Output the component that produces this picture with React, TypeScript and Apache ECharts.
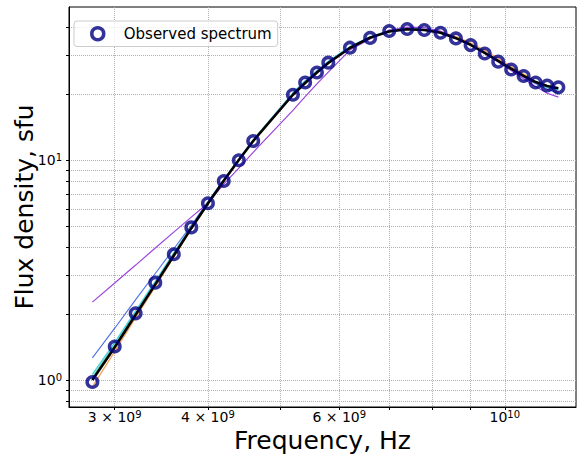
import React, { useEffect, useRef } from "react";
import * as echarts from "echarts";

// Frequencies in GHz (observed and model grid)
const FREQ_GHZ = [2.8, 3.0, 3.2, 3.4, 3.6, 3.8, 4.0, 4.2, 4.4, 4.6, 5.2, 5.4, 5.6, 5.8, 6.2, 6.6, 7.0, 7.4, 7.8, 8.2, 8.6, 9.0, 9.4, 9.8, 10.2, 10.6, 11.0, 11.4, 11.8];

// Observed flux density, sfu
const OBSERVED = [0.98, 1.42, 2.01, 2.77, 3.73, 4.94, 6.36, 8.03, 9.97, 12.2, 19.8, 22.5, 25.0, 27.7, 32.4, 35.9, 38.6, 39.4, 39.0, 37.9, 35.7, 33.3, 30.5, 28.0, 25.8, 24.1, 22.5, 21.8, 21.4];

// Model fits
const FIT_BEST = [1.0, 1.41, 1.98, 2.72, 3.68, 4.9, 6.35, 8.05, 10.0, 12.2, 19.8, 22.4, 25.0, 27.6, 32.3, 36.0, 38.4, 39.3, 39.0, 37.9, 35.8, 33.4, 30.7, 28.2, 26.0, 24.1, 22.6, 21.7, 21.2];
const FIT_CYAN = [1.06, 1.48, 2.06, 2.81, 3.78, 5.0, 6.45, 8.15, 10.1, 12.35, 20.2, 22.9, 25.5, 28.1, 32.8, 36.4, 38.7, 39.6, 39.2, 38.0, 35.9, 33.4, 30.7, 28.2, 25.9, 24.0, 22.4, 21.4, 20.8];
const FIT_GREEN = [1.03, 1.45, 2.02, 2.77, 3.73, 4.95, 6.4, 8.1, 10.05, 12.3, 19.95, 22.6, 25.2, 27.8, 32.5, 36.1, 38.5, 39.4, 39.1, 37.9, 35.8, 33.4, 30.7, 28.2, 25.9, 24.0, 22.5, 21.5, 21.0];
const FIT_ORANGE = [0.93, 1.35, 1.92, 2.66, 3.62, 4.85, 6.3, 8.0, 9.95, 12.1, 19.7, 22.3, 24.9, 27.5, 32.2, 35.9, 38.4, 39.3, 39.1, 38.3, 36.4, 34.1, 31.5, 29.0, 26.6, 24.6, 22.8, 21.4, 20.3];
const FIT_BLUE = [1.26, 1.72, 2.32, 3.05, 3.95, 5.05, 6.45, 8.1, 10.05, 12.25, 20.0, 22.7, 25.3, 27.9, 32.6, 36.2, 38.6, 39.5, 39.2, 38.0, 35.9, 33.4, 30.7, 28.1, 25.8, 23.8, 22.2, 21.0, 20.1];
const FIT_PURPLE = [2.26, 2.76, 3.33, 3.98, 4.7, 5.5, 6.36, 7.77, 9.18, 10.84, 16.8, 19.4, 22.2, 25.1, 31.6, 35.5, 39.0, 40.2, 40.0, 38.5, 36.0, 33.3, 30.5, 27.9, 25.5, 23.4, 21.6, 20.1, 19.3];

// Axis ticks
const X_TICKS = [3e9, 4e9, 5e9, 6e9, 7e9, 8e9, 9e9, 1e10];
const X_LABELS = [3e9, 4e9, 6e9, 1e10];
const Y_TICKS = [0.8, 0.9, 1, 2, 3, 4, 5, 6, 7, 8, 9, 10, 20, 30, 40];
const Y_LABELS = [1, 10];

const FONT = "DejaVu Sans";

const toPairs = (vals: number[]) => FREQ_GHZ.map((f, i) => [f * 1e9, vals[i]]);

const rich = {
  n: { fontSize: 14, lineHeight: 16, fontFamily: FONT, color: "#000" },
  s: { fontSize: 10, lineHeight: 9, verticalAlign: "top", fontFamily: FONT, color: "#000" },
};

function xFmt(v: number) {
  const e = Math.floor(Math.log10(v) + 1e-9);
  const m = Math.round(v / Math.pow(10, e));
  if (m === 1) return `{n|10}{s|${e}}`;
  return `{n|${m} × 10}{s|${e}}`;
}
function yFmt(v: number) {
  const e = Math.round(Math.log10(v));
  return `{n|10}{s|${e}}`;
}

export default function App() {
  const ref = useRef<HTMLDivElement>(null);
  useEffect(() => {
    if (!ref.current) return;
    const chart = echarts.init(ref.current, null, { renderer: "svg" });
    const line = (name: string, vals: number[], color: string, width: number, z: number) => ({
      name,
      type: "line",
      data: toPairs(vals),
      showSymbol: false,
      symbol: "none",
      lineStyle: { color, width },
      itemStyle: { color },
      z,
      silent: true,
    });
    chart.setOption({
      animation: false,
      backgroundColor: "#fff",
      textStyle: { fontFamily: FONT },
      grid: {
        left: 69,
        right: 1,
        top: 7,
        bottom: 50,
        containLabel: false,
        outerBoundsMode: "none",
        show: true,
        borderColor: "#000",
        borderWidth: 1,
        backgroundColor: "transparent",
      },
      legend: {
        data: ["Observed spectrum"],
        left: 74,
        top: 21,
        orient: "vertical",
        padding: [5, 6, 5, 16],
        itemWidth: 12,
        itemHeight: 12,
        backgroundColor: "rgba(255,255,255,0.8)",
        borderColor: "#ccc",
        borderWidth: 1,
        borderRadius: 3,
        icon: "circle",
        itemStyle: { color: "rgba(0,0,0,0)", borderColor: "#000080", borderWidth: 3.5 },
        formatter: (n: string) => `{t|${n}}`,
        textStyle: {
          rich: { t: { fontSize: 15, fontFamily: FONT, color: "#000", padding: [0, 0, 0, 15] } },
        },
      },
      xAxis: {
        type: "log",
        logBase: 10,
        min: 2.605e9,
        max: 1.246e10,
        name: "Frequency, Hz",
        nameLocation: "middle",
        nameGap: 21,
        nameMoveOverlap: false,
        nameTextStyle: { fontSize: 25, fontFamily: FONT, color: "#000" },
        axisLine: { show: true, onZero: false, lineStyle: { color: "#000", width: 1 } },
        axisTick: { show: true, length: 3, customValues: X_TICKS, lineStyle: { color: "#000" } },
        axisLabel: { customValues: X_LABELS, formatter: xFmt, rich, margin: 2 },
        splitLine: { show: true, lineStyle: { type: "dotted", color: "#b0b0b0", width: 1 } },
        minorTick: { show: false },
        minorSplitLine: { show: false },
      },
      yAxis: {
        type: "log",
        logBase: 10,
        min: 0.754,
        max: 49.6,
        name: "Flux density, sfu",
        nameLocation: "middle",
        nameGap: 32,
        nameMoveOverlap: false,
        nameTextStyle: { fontSize: 25, fontFamily: FONT, color: "#000" },
        axisLine: { show: true, onZero: false, lineStyle: { color: "#000", width: 1 } },
        axisTick: { show: true, length: 3, customValues: Y_TICKS, lineStyle: { color: "#000" } },
        axisLabel: { customValues: Y_LABELS, formatter: yFmt, rich, margin: 7 },
        splitLine: { show: true, lineStyle: { type: "dotted", color: "#b0b0b0", width: 1 } },
        minorTick: { show: false },
        minorSplitLine: { show: false },
      },
      series: [
        line("fit orange", FIT_ORANGE, "#f4a460", 1.3, 2),
        line("fit green", FIT_GREEN, "#66d9a6", 1.3, 2),
        line("fit cyan", FIT_CYAN, "#48d1e0", 1.4, 2),
        line("fit blue", FIT_BLUE, "#4d6fe6", 1.1, 2),
        line("fit purple", FIT_PURPLE, "#9b45e0", 1.2, 2),
        line("fit best", FIT_BEST, "#000000", 2.6, 3),
        {
          name: "Observed spectrum",
          type: "scatter",
          data: toPairs(OBSERVED),
          symbol: "circle",
          symbolSize: 10.5,
          itemStyle: { color: "rgba(0,0,0,0)", borderColor: "#000080", borderWidth: 3.5 },
          z: 5,
          silent: true,
        },
      ],
    });
    return () => chart.dispose();
  }, []);
  return (
    <div
      ref={ref}
      style={{ position: "fixed", left: 0, top: 0, width: 577, height: 457 }}
    />
  );
}
